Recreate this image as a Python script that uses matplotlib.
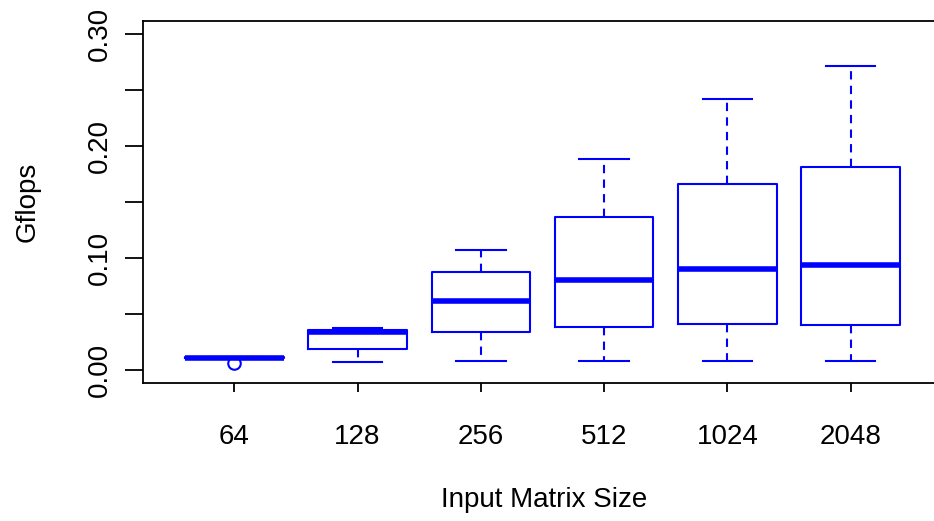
import matplotlib
matplotlib.use("Agg")
import matplotlib.pyplot as plt

# box statistics (Gflops)
sizes = ["64", "128", "256", "512", "1024", "2048"]
whislo = [0.0094, 0.0071, 0.0073, 0.0073, 0.0073, 0.0073]
q1 = [0.0100, 0.0183, 0.0335, 0.0382, 0.0404, 0.0400]
med = [0.0107, 0.0335, 0.0610, 0.0799, 0.0904, 0.0936]
q3 = [0.0110, 0.0355, 0.0870, 0.1364, 0.1663, 0.1811]
whishi = [0.0112, 0.0373, 0.1067, 0.1886, 0.2424, 0.2716]
fliers = [[0.0058], [], [], [], [], []]

BLUE = "#0000ff"
FS = 20

plt.rcParams["font.family"] = ["Liberation Sans", "DejaVu Sans"]

fig = plt.figure(figsize=(9.34, 5.21), dpi=100)
# right spine sits just outside the image, as in the reference
ax = fig.add_axes([143 / 934, (521 - 383) / 521, (942 - 143) / 934, (383 - 21) / 521])

stats = []
for i in range(len(sizes)):
    stats.append(dict(label=sizes[i], whislo=whislo[i], q1=q1[i], med=med[i],
                      q3=q3[i], whishi=whishi[i], fliers=fliers[i]))

ax.bxp(stats, positions=range(1, len(sizes) + 1), widths=0.8,
       showfliers=True, patch_artist=False,
       boxprops=dict(color=BLUE, linewidth=1.5),
       medianprops=dict(color=BLUE, linewidth=4.0, solid_capstyle="butt"),
       whiskerprops=dict(color=BLUE, linewidth=1.5, linestyle=(0, (4, 3))),
       capprops=dict(color=BLUE, linewidth=1.5),
       capwidths=0.4,
       flierprops=dict(marker="o", markerfacecolor="none", markeredgecolor=BLUE,
                       markersize=9, markeredgewidth=1.5))

ax.set_xlim(0.26, 6.74)
ax.set_ylim(-0.012, 0.312)
ax.set_yticks([0.0, 0.05, 0.10, 0.15, 0.20, 0.25, 0.30])
ax.set_yticklabels(["0.00", "", "0.10", "", "0.20", "", "0.30"],
                   rotation=90, va="center")
ax.set_xticks(range(1, len(sizes) + 1))
ax.set_xticklabels(sizes)

for s in ax.spines.values():
    s.set_linewidth(1.3)
ax.tick_params(axis="x", length=6.5, width=1.3, pad=23, labelsize=FS)
ax.tick_params(axis="y", length=13, width=1.3, pad=9, labelsize=FS)

# axis titles placed where R puts them
fig.text(544 / 934, 1 - 500 / 521, "Input Matrix Size", fontsize=FS,
         ha="center", va="center")
fig.text(28 / 934, 1 - 202 / 521, "Gflops", fontsize=FS, rotation=90,
         ha="center", va="center")

fig.savefig("out.png", dpi=100)
